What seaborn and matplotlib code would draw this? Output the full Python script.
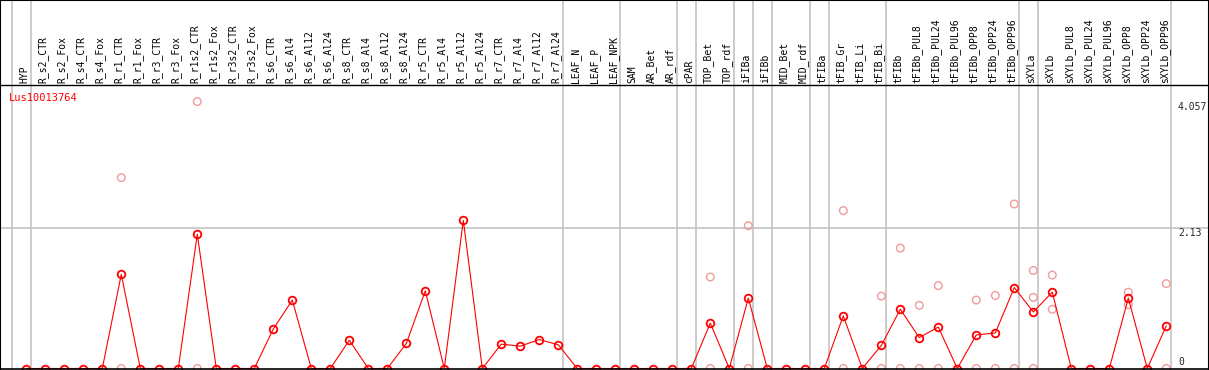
import pandas as pd
import numpy as np
import matplotlib
matplotlib.use('Agg')
import matplotlib.pyplot as plt
import seaborn as sns

# sample names along the x axis
samples = ['HYP',
           'R_s2_CTR', 'R_s2_Fox', 'R_s4_CTR', 'R_s4_Fox', 'R_r1_CTR', 'R_r1_Fox',
           'R_r3_CTR', 'R_r3_Fox', 'R_r1s2_CTR', 'R_r1s2_Fox', 'R_r3s2_CTR', 'R_r3s2_Fox',
           'R_s6_CTR', 'R_s6_Al4', 'R_s6_Al12', 'R_s6_Al24',
           'R_s8_CTR', 'R_s8_Al4', 'R_s8_Al12', 'R_s8_Al24',
           'R_r5_CTR', 'R_r5_Al4', 'R_r5_Al12', 'R_r5_Al24',
           'R_r7_CTR', 'R_r7_Al4', 'R_r7_Al12', 'R_r7_Al24',
           'LEAF_N', 'LEAF_P', 'LEAF_NPK', 'SAM', 'AR_Bet', 'AR_rdf', 'cPAR',
           'TOP_Bet', 'TOP_rdf', 'iFIBa', 'iFIBb', 'MID_Bet', 'MID_rdf', 'tFIBa',
           'tFIB_Gr', 'tFIB_Li', 'tFIB_Bi', 'tFIBb',
           'tFIBb_PUL8', 'tFIBb_PUL24', 'tFIBb_PUL96', 'tFIBb_OPP8', 'tFIBb_OPP24', 'tFIBb_OPP96',
           'sXYLa', 'sXYLb',
           'sXYLb_PUL8', 'sXYLb_PUL24', 'sXYLb_PUL96', 'sXYLb_OPP8', 'sXYLb_OPP24', 'sXYLb_OPP96']

# mean expression per sample (red line)
mean_values = [0,
               0, 0, 0, 0, 1.43, 0,
               0, 0, 2.04, 0, 0, 0,
               0.60, 1.04, 0, 0,
               0.43, 0, 0, 0.38,
               1.18, 0, 2.25, 0,
               0.37, 0.34, 0.44, 0.36,
               0, 0, 0, 0, 0, 0, 0,
               0.69, 0, 1.07, 0, 0, 0, 0,
               0.80, 0, 0.35, 0.90,
               0.47, 0.63, 0, 0.51, 0.54, 1.23,
               0.86, 1.16,
               0, 0, 0, 1.07, 0, 0.65]

# individual replicates (pink circles)
rep_samples = ['R_r1_CTR', 'R_r1_CTR', 'R_r1s2_CTR', 'R_r1s2_CTR',
               'TOP_Bet', 'TOP_Bet', 'iFIBa', 'iFIBa',
               'tFIB_Gr', 'tFIB_Gr', 'tFIB_Bi', 'tFIB_Bi', 'tFIBb', 'tFIBb',
               'tFIBb_PUL8', 'tFIBb_PUL8', 'tFIBb_PUL24', 'tFIBb_PUL24',
               'tFIBb_OPP8', 'tFIBb_OPP8', 'tFIBb_OPP24', 'tFIBb_OPP24',
               'tFIBb_OPP96', 'tFIBb_OPP96', 'sXYLa', 'sXYLa', 'sXYLa',
               'sXYLb', 'sXYLb', 'sXYLb_OPP8', 'sXYLb_OPP8', 'sXYLb_OPP96', 'sXYLb_OPP96']
rep_values = [2.90, 0, 4.057, 0,
              1.39, 0, 2.17, 0,
              2.40, 0, 1.10, 0, 1.83, 0,
              0.96, 0, 1.26, 0,
              1.04, 0, 1.11, 0,
              2.50, 0, 1.49, 1.08, 0,
              1.42, 0.90, 1.16, 0.97, 1.29, 0]

# group separators drawn after these sample indices
separator_after = [-1, 0, 28, 31, 34, 35, 37, 38, 39, 41, 42, 45, 52, 53, 60]

gene = 'Lus10013764'
y_marks = [4.057, 2.13, 0]

df = pd.DataFrame({'sample': samples, 'mean': mean_values})
df['pos'] = np.arange(len(samples))
reps = pd.DataFrame({'sample': rep_samples, 'value': rep_values})
reps['pos'] = reps['sample'].map(dict(zip(samples, df['pos'])))

sns.set_style('white')
plt.rcParams['font.family'] = ['DejaVu Sans Mono', 'DejaVu Sans']

fig = plt.figure(figsize=(12.09, 3.70), dpi=100)
ax = fig.add_axes([0, 0, 1, 1])

# pixel geometry of the original: first sample at x=26.3px, 19px apart, zero at y=368.5px
px_per_unit = 65.8
ax.set_xlim(-26.3 / 19, (1209 - 26.3) / 19)
ax.set_ylim(-1.5 / px_per_unit, 368.5 / px_per_unit)

grey = '#c4c4c4'
for i in separator_after:
    ax.axvline(i + 0.23, color=grey, lw=1.2, zorder=1)
ax.axhline(2.13, color=grey, lw=1.2, zorder=1)
ax.axhline(0, color='black', lw=1.2, zorder=5)
ax.axhline((368.5 - 85) / px_per_unit, color='black', lw=1.0, zorder=5)

sns.scatterplot(data=reps, x='pos', y='value', ax=ax, marker='o', s=30,
                facecolor='none', edgecolor='#f09a9a', linewidth=1.0, zorder=3)
sns.lineplot(data=df, x='pos', y='mean', ax=ax, color='red', lw=0.8,
             marker='o', markersize=5.5, markerfacecolor='none',
             markeredgecolor='red', markeredgewidth=1.3, zorder=4)

label_y = (368.5 - 83) / px_per_unit
for i, name in enumerate(samples):
    ax.text(i - 0.1, label_y, name, rotation=90, ha='center', va='bottom',
            fontsize=7, color='black')

ax.text((9 - 26.3) / 19, (368.5 - 98) / px_per_unit, gene, color='red',
        fontsize=7.5, ha='left', va='center')

label_x = (1178 - 26.3) / 19
ax.text(label_x, 4.057, '4.057', fontsize=7, ha='left', va='top')
ax.text(label_x, 2.13, '2.13', fontsize=7, ha='left', va='top')
ax.text(label_x, 0.03, '0', fontsize=7, ha='left', va='bottom')

ax.set_xticks([])
ax.set_yticks([])
ax.set_xlabel('')
ax.set_ylabel('')
for side in ['left', 'top', 'right']:
    ax.spines[side].set_visible(True)
    ax.spines[side].set_color('black')
    ax.spines[side].set_linewidth(1.5)
ax.spines['bottom'].set_visible(False)

fig.savefig('out.png', dpi=100)
